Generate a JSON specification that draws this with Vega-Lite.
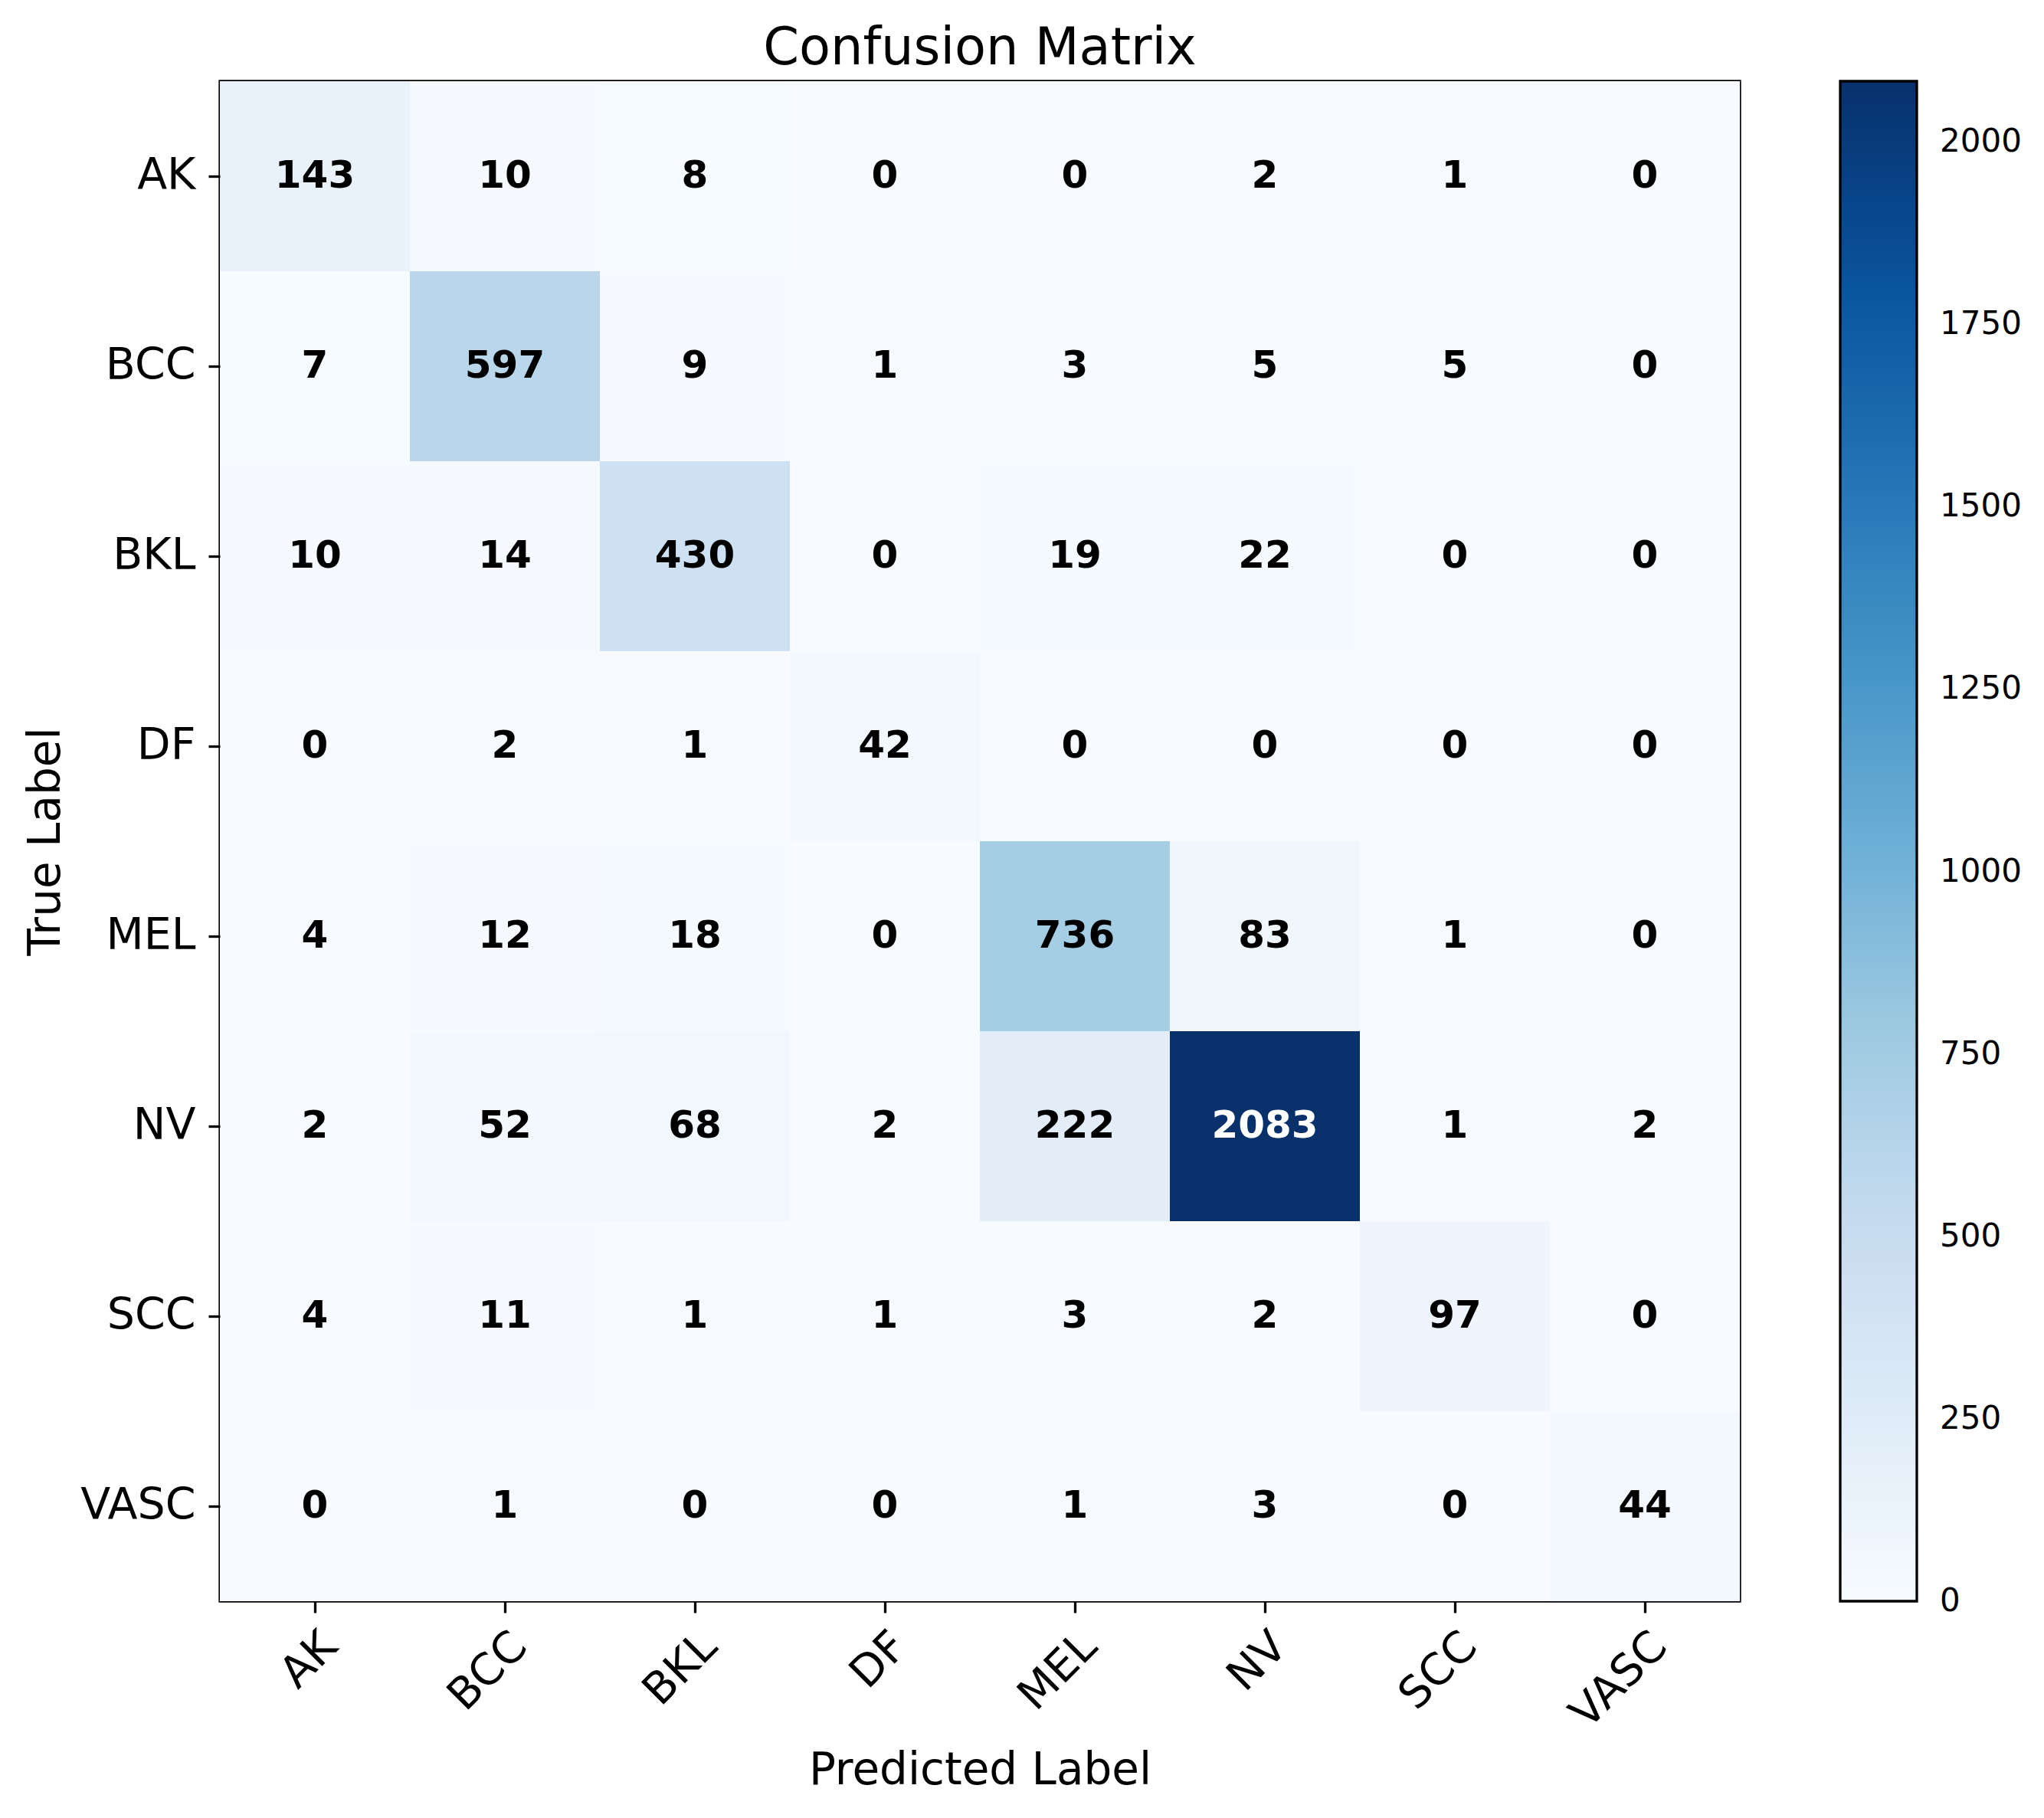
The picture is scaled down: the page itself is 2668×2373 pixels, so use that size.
{
  "$schema": "https://vega.github.io/schema/vega-lite/v6.json",
  "width": 1984,
  "height": 1984,
  "autosize": {"type": "none"},
  "padding": {"left": 287, "top": 106, "right": 397, "bottom": 283},
  "background": "white",
  "title": {"text": "Confusion Matrix", "fontSize": 67, "fontWeight": "normal", "font": "DejaVu Sans", "color": "black", "anchor": "middle", "offset": 8, "frame": "group"},
  "data": {"values": [
    {"actual": "AK", "predicted": "AK", "value": 143},
    {"actual": "AK", "predicted": "BCC", "value": 10},
    {"actual": "AK", "predicted": "BKL", "value": 8},
    {"actual": "AK", "predicted": "DF", "value": 0},
    {"actual": "AK", "predicted": "MEL", "value": 0},
    {"actual": "AK", "predicted": "NV", "value": 2},
    {"actual": "AK", "predicted": "SCC", "value": 1},
    {"actual": "AK", "predicted": "VASC", "value": 0},
    {"actual": "BCC", "predicted": "AK", "value": 7},
    {"actual": "BCC", "predicted": "BCC", "value": 597},
    {"actual": "BCC", "predicted": "BKL", "value": 9},
    {"actual": "BCC", "predicted": "DF", "value": 1},
    {"actual": "BCC", "predicted": "MEL", "value": 3},
    {"actual": "BCC", "predicted": "NV", "value": 5},
    {"actual": "BCC", "predicted": "SCC", "value": 5},
    {"actual": "BCC", "predicted": "VASC", "value": 0},
    {"actual": "BKL", "predicted": "AK", "value": 10},
    {"actual": "BKL", "predicted": "BCC", "value": 14},
    {"actual": "BKL", "predicted": "BKL", "value": 430},
    {"actual": "BKL", "predicted": "DF", "value": 0},
    {"actual": "BKL", "predicted": "MEL", "value": 19},
    {"actual": "BKL", "predicted": "NV", "value": 22},
    {"actual": "BKL", "predicted": "SCC", "value": 0},
    {"actual": "BKL", "predicted": "VASC", "value": 0},
    {"actual": "DF", "predicted": "AK", "value": 0},
    {"actual": "DF", "predicted": "BCC", "value": 2},
    {"actual": "DF", "predicted": "BKL", "value": 1},
    {"actual": "DF", "predicted": "DF", "value": 42},
    {"actual": "DF", "predicted": "MEL", "value": 0},
    {"actual": "DF", "predicted": "NV", "value": 0},
    {"actual": "DF", "predicted": "SCC", "value": 0},
    {"actual": "DF", "predicted": "VASC", "value": 0},
    {"actual": "MEL", "predicted": "AK", "value": 4},
    {"actual": "MEL", "predicted": "BCC", "value": 12},
    {"actual": "MEL", "predicted": "BKL", "value": 18},
    {"actual": "MEL", "predicted": "DF", "value": 0},
    {"actual": "MEL", "predicted": "MEL", "value": 736},
    {"actual": "MEL", "predicted": "NV", "value": 83},
    {"actual": "MEL", "predicted": "SCC", "value": 1},
    {"actual": "MEL", "predicted": "VASC", "value": 0},
    {"actual": "NV", "predicted": "AK", "value": 2},
    {"actual": "NV", "predicted": "BCC", "value": 52},
    {"actual": "NV", "predicted": "BKL", "value": 68},
    {"actual": "NV", "predicted": "DF", "value": 2},
    {"actual": "NV", "predicted": "MEL", "value": 222},
    {"actual": "NV", "predicted": "NV", "value": 2083},
    {"actual": "NV", "predicted": "SCC", "value": 1},
    {"actual": "NV", "predicted": "VASC", "value": 2},
    {"actual": "SCC", "predicted": "AK", "value": 4},
    {"actual": "SCC", "predicted": "BCC", "value": 11},
    {"actual": "SCC", "predicted": "BKL", "value": 1},
    {"actual": "SCC", "predicted": "DF", "value": 1},
    {"actual": "SCC", "predicted": "MEL", "value": 3},
    {"actual": "SCC", "predicted": "NV", "value": 2},
    {"actual": "SCC", "predicted": "SCC", "value": 97},
    {"actual": "SCC", "predicted": "VASC", "value": 0},
    {"actual": "VASC", "predicted": "AK", "value": 0},
    {"actual": "VASC", "predicted": "BCC", "value": 1},
    {"actual": "VASC", "predicted": "BKL", "value": 0},
    {"actual": "VASC", "predicted": "DF", "value": 0},
    {"actual": "VASC", "predicted": "MEL", "value": 1},
    {"actual": "VASC", "predicted": "NV", "value": 3},
    {"actual": "VASC", "predicted": "SCC", "value": 0},
    {"actual": "VASC", "predicted": "VASC", "value": 44}
  ]},
  "encoding": {
    "x": {
      "field": "predicted", "type": "nominal",
      "scale": {"domain": ["AK", "BCC", "BKL", "DF", "MEL", "NV", "SCC", "VASC"], "paddingInner": 0, "paddingOuter": 0},
      "axis": {"title": "Predicted Label", "orient": "bottom", "labelAngle": -45, "labelAlign": "right", "labelBaseline": "top", "labelPadding": 15, "titlePadding": 17}
    },
    "y": {
      "field": "actual", "type": "nominal",
      "scale": {"domain": ["AK", "BCC", "BKL", "DF", "MEL", "NV", "SCC", "VASC"], "paddingInner": 0, "paddingOuter": 0},
      "axis": {"title": "True Label", "orient": "left", "labelPadding": 17, "titlePadding": 15}
    }
  },
  "layer": [
    {
      "mark": {"type": "rect", "strokeWidth": 0},
      "encoding": {
        "color": {
          "field": "value", "type": "quantitative",
          "scale": {
            "domain": [0, 260.375, 520.75, 781.125, 1041.5, 1301.875, 1562.25, 1822.625, 2083],
            "range": ["#f7fbff", "#deebf7", "#c6dbef", "#9ecae1", "#6baed6", "#4292c6", "#2171b5", "#08519c", "#08306b"],
            "interpolate": "rgb"
          },
          "legend": {
            "title": null, "type": "gradient", "orient": "right", "direction": "vertical",
            "offset": 131, "padding": 0,
            "gradientLength": 1984, "gradientThickness": 100,
            "gradientStrokeColor": "black", "gradientStrokeWidth": 3.3,
            "labelFontSize": 42, "labelFont": "DejaVu Sans", "labelColor": "black",
            "labelOffset": 30, "labelOverlap": false, "format": "d",
            "values": [0, 250, 500, 750, 1000, 1250, 1500, 1750, 2000],
            "encode": {"labels": {"update": {"baseline": {"value": "middle"}}}}
          }
        }
      }
    },
    {
      "mark": {"type": "text", "fontSize": 50, "fontWeight": "bold", "font": "DejaVu Sans", "baseline": "middle", "align": "center"},
      "encoding": {
        "text": {"field": "value", "type": "quantitative", "format": "d"},
        "color": {"condition": {"test": "datum.value > 1041.5", "value": "white"}, "value": "black"}
      }
    }
  ],
  "config": {
    "view": {"stroke": "black", "strokeWidth": 3.3},
    "font": "DejaVu Sans",
    "axis": {
      "domain": false, "grid": false,
      "tickColor": "black", "tickWidth": 3.3, "tickSize": 15,
      "labelFont": "DejaVu Sans", "labelFontSize": 57, "labelColor": "black",
      "titleFont": "DejaVu Sans", "titleFontSize": 58, "titleFontWeight": "normal", "titleColor": "black"
    },
    "legend": {"gradientVerticalMaxLength": 3000}
  }
}
